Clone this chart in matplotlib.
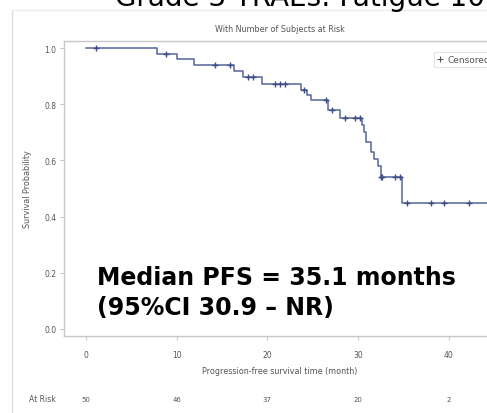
import matplotlib
matplotlib.use("Agg")
import matplotlib.pyplot as plt
from matplotlib.lines import Line2D
import matplotlib.transforms as mtrans

# ---- data ----
step_times = [0.0, 7.8, 10.0, 11.9, 16.3, 17.3, 19.4, 23.7, 24.4, 24.8, 26.7, 28.0,
              30.5, 30.7, 30.9, 31.4, 31.8, 32.2, 32.5, 34.9]
step_surv = [1.0, 0.98, 0.96, 0.94, 0.918, 0.897, 0.872, 0.852, 0.834, 0.815, 0.78, 0.75,
             0.725, 0.70, 0.667, 0.63, 0.605, 0.58, 0.54, 0.45]
end_time = 46.0
censor_times = [1.1, 8.8, 14.2, 15.9, 17.9, 18.4, 20.8, 21.4, 21.9, 24.1, 26.5, 27.1,
                28.6, 29.7, 30.2, 32.6, 32.7, 34.1, 34.6, 35.4, 38.1, 39.5, 42.3]
risk_times = [0, 10, 20, 30, 40]
risk_counts = [50, 46, 37, 20, 2]
x_ticks = [0, 10, 20, 30, 40]
y_ticks = [0.0, 0.2, 0.4, 0.6, 0.8, 1.0]


def surv_at(t):
    s = 1.0
    for tt, ss in zip(step_times, step_surv):
        if tt <= t:
            s = ss
    return s


censor_surv = [surv_at(t) for t in censor_times]

W, H = 487, 414
fig = plt.figure(figsize=(W / 100, H / 100), dpi=100)
fig.patch.set_facecolor("white")

# axes geometry (pixels)
ax_l, ax_r, ax_t, ax_b = 64, 512, 42, 337
ax = fig.add_axes([ax_l / W, (H - ax_b) / H, (ax_r - ax_l) / W, (ax_b - ax_t) / H])
ax.set_xlim(-2.43, 47.0)
ax.set_ylim(-0.025, 1.025)

line_col = "#56659a"
xs = list(step_times) + [end_time]
ys = list(step_surv) + [step_surv[-1]]
ax.step(xs, ys, where="post", color=line_col, lw=1.1)
ax.plot(censor_times, censor_surv, ls="none", marker="+", ms=5, mew=1.0, color="#3f4c86")

for sp in ["left", "bottom", "top"]:
    ax.spines[sp].set_color("#c8c8c8")
    ax.spines[sp].set_linewidth(1.0)
ax.spines["right"].set_visible(False)

ax.set_xticks(x_ticks)
ax.set_yticks(y_ticks)
ax.set_yticklabels([f"{v:.1f}" for v in y_ticks])
ax.tick_params(axis="both", colors="#c8c8c8", labelcolor="#555555", labelsize=5.5, length=3, width=0.8)
ax.tick_params(axis="x", pad=7)
ax.tick_params(axis="y", pad=2.5)

ax.set_ylabel("Survival Probability", fontsize=5.8, color="#555555", labelpad=9)
fig.text(280 / W, 1 - 372 / H, "Progression-free survival time (month)", fontsize=5.8,
         color="#555555", ha="center", va="center")
fig.text(280 / W, 1 - 30 / H, "With Number of Subjects at Risk", fontsize=5.8,
         color="#555555", ha="center", va="center")

# legend
handle = Line2D([], [], ls="none", marker="+", ms=4, mew=0.8, color="#555555")
leg = ax.legend([handle], ["Censored"], loc="upper left",
                bbox_to_anchor=((429 - ax_l) / (ax_r - ax_l), (ax_b - 48) / (ax_b - ax_t)),
                fontsize=6.5, frameon=True, fancybox=False, borderpad=0.35,
                handlelength=0.8, handletextpad=0.4, labelcolor="#555555")
leg.get_frame().set_edgecolor("#dddddd")
leg.get_frame().set_linewidth(0.8)

# big annotation
ax.text((97 - ax_l) / (ax_r - ax_l), (ax_b - 285) / (ax_b - ax_t), "Median PFS = 35.1 months",
        transform=ax.transAxes, fontsize=17, fontweight="bold", color="black",
        family="DejaVu Sans", ha="left", va="baseline")
ax.text((97 - ax_l) / (ax_r - ax_l), (ax_b - 315) / (ax_b - ax_t), "(95%CI 30.9 \u2013 NR)",
        transform=ax.transAxes, fontsize=17, fontweight="bold", color="black",
        family="DejaVu Sans", ha="left", va="baseline")

# at risk row
trans = mtrans.blended_transform_factory(ax.transData, fig.transFigure)
for t, n in zip(risk_times, risk_counts):
    ax.text(t, 1 - 400 / H, str(n), transform=trans, fontsize=5.0, color="#555555",
            ha="center", va="center", clip_on=False)
fig.text(42 / W, 1 - 400 / H, "At Risk", fontsize=5.5, color="#555555", ha="center", va="center")

# cut-off slide title at the very top
fig.text(115 / W, 1 - 6 / H, "Grade 3 TRAEs: Fatigue 10%", fontsize=20, color="black",
         ha="left", va="baseline")

# outer light frame
fig.add_artist(Line2D([12 / W, 12 / W], [0, 1 - 11 / H], transform=fig.transFigure,
                      color="#dedede", lw=1.0))
fig.add_artist(Line2D([12 / W, 1], [1 - 11 / H, 1 - 11 / H], transform=fig.transFigure,
                      color="#ececec", lw=1.0))

fig.savefig("out.png", dpi=100)
